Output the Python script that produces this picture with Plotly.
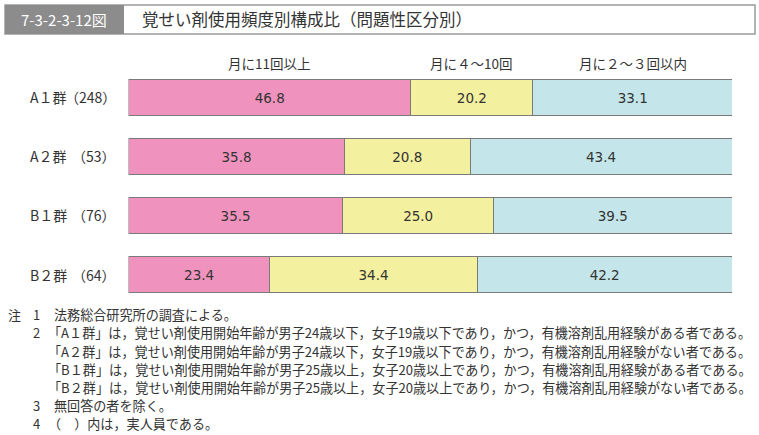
import plotly.graph_objects as go

categories = ["A１群", "A２群", "B１群", "B２群"]
counts = ["（248）", "（53）", "（76）", "（64）"]
series_names = ["月に11回以上", "月に４～10回", "月に２～３回以内"]
freq_11_plus = [46.8, 35.8, 35.5, 23.4]
freq_4_10 = [20.2, 20.8, 25.0, 34.4]
freq_2_3 = [33.1, 43.4, 39.5, 42.2]
series_values = [freq_11_plus, freq_4_10, freq_2_3]
colors = ["#EF93BE", "#F3F0A0", "#C4E6EA"]

notes = [
    ("注", "1", "法務総合研究所の調査による。"),
    ("", "2", "「A１群」は，覚せい剤使用開始年齢が男子24歳以下，女子19歳以下であり，かつ，有機溶剤乱用経験がある者である。"),
    ("", "", "「A２群」は，覚せい剤使用開始年齢が男子24歳以下，女子19歳以下であり，かつ，有機溶剤乱用経験がない者である。"),
    ("", "", "「B１群」は，覚せい剤使用開始年齢が男子25歳以上，女子20歳以上であり，かつ，有機溶剤乱用経験がある者である。"),
    ("", "", "「B２群」は，覚せい剤使用開始年齢が男子25歳以上，女子20歳以上であり，かつ，有機溶剤乱用経験がない者である。"),
    ("", "3", "無回答の者を除く。"),
    ("", "4", "（　）内は，実人員である。"),
]

FONT = "Noto Sans CJK JP"
NUMFONT = "DejaVu Sans"
W, H = 759, 435

fig = go.Figure()
for name, vals, col in zip(series_names, series_values, colors):
    fig.add_trace(go.Bar(
        y=categories, x=vals, name=name, orientation="h",
        marker=dict(color=col, line=dict(color="#7a7a7a", width=1)),
        width=0.6,
        text=[f"{v:.1f}" for v in vals], textposition="inside",
        insidetextanchor="middle",
        textfont=dict(family=NUMFONT, size=13.5, color="#333333"),
        hoverinfo="skip",
    ))

x0_px, x1_px = 128.5, 732
ytop_px, ybot_px = 68, 304

annotations = []
cum = 0
for name, vals in zip(series_names, series_values):
    center = cum + vals[0] / 2
    cum += vals[0]
    annotations.append(dict(x=center, xref="x", y=1 - 63 / H, yref="paper",
                            text=name, showarrow=False, xanchor="center", yanchor="middle",
                            font=dict(family=FONT, size=13.5, color="#333333")))
for c, n in zip(categories, counts):
    annotations.append(dict(x=28 / W, xref="paper", y=c, yref="y", text=c, showarrow=False,
                            xanchor="left", yanchor="middle",
                            font=dict(family=FONT, size=14, color="#333333")))
    annotations.append(dict(x=118 / W, xref="paper", y=c, yref="y", text=n, showarrow=False,
                            xanchor="right", yanchor="middle",
                            font=dict(family=FONT, size=14, color="#333333")))
annotations.append(dict(x=64 / W, xref="paper", y=1 - 19.5 / H, yref="paper", text="7-3-2-3-12図",
                        showarrow=False, xanchor="center", yanchor="middle",
                        font=dict(family=FONT, size=15, color="white")))
annotations.append(dict(x=140 / W, xref="paper", y=1 - 19.5 / H, yref="paper",
                        text="覚せい剤使用頻度別構成比（問題性区分別）",
                        showarrow=False, xanchor="left", yanchor="middle",
                        font=dict(family=FONT, size=16.5, color="#333333")))
line_y = [314, 332, 351, 369, 387, 405, 423]
for (a, b, t), ly in zip(notes, line_y):
    yp = 1 - ly / H
    if a:
        annotations.append(dict(x=6 / W, xref="paper", y=yp, yref="paper", text=a, showarrow=False,
                                xanchor="left", yanchor="middle",
                                font=dict(family=FONT, size=13, color="#333333")))
    if b:
        annotations.append(dict(x=36 / W, xref="paper", y=yp, yref="paper", text=b, showarrow=False,
                                xanchor="center", yanchor="middle",
                                font=dict(family=FONT, size=13, color="#333333")))
    tx = 46 if t[0] in "「（" else 52
    annotations.append(dict(x=tx / W, xref="paper", y=yp, yref="paper", text=t, showarrow=False,
                            xanchor="left", yanchor="middle",
                            font=dict(family=FONT, size=13.1, color="#333333")))

shapes = [
    dict(type="rect", xref="paper", yref="paper", x0=5 / W, x1=755 / W, y0=1 - 34 / H, y1=1 - 5 / H,
         line=dict(color="#9a9a9a", width=1.5), fillcolor="white", layer="below"),
    dict(type="rect", xref="paper", yref="paper", x0=5 / W, x1=124 / W, y0=1 - 34 / H, y1=1 - 5 / H,
         line=dict(width=0), fillcolor="#8c8c8c", layer="below"),
]

fig.update_layout(
    width=W, height=H, barmode="stack", showlegend=False,
    margin=dict(l=0, r=0, t=0, b=0),
    paper_bgcolor="white", plot_bgcolor="white",
    xaxis=dict(domain=[x0_px / W, x1_px / W], range=[0, 100], visible=False, fixedrange=True),
    yaxis=dict(domain=[1 - ybot_px / H, 1 - ytop_px / H], autorange="reversed",
               showticklabels=False, showgrid=False, zeroline=False, fixedrange=True),
    annotations=annotations, shapes=shapes,
    font=dict(family=FONT),
    uniformtext=dict(minsize=13, mode="show"),
)

fig.write_html("out.html", config={"displayModeBar": False},
               post_script="document.body.style.margin='0px';document.body.style.overflow='hidden';")
